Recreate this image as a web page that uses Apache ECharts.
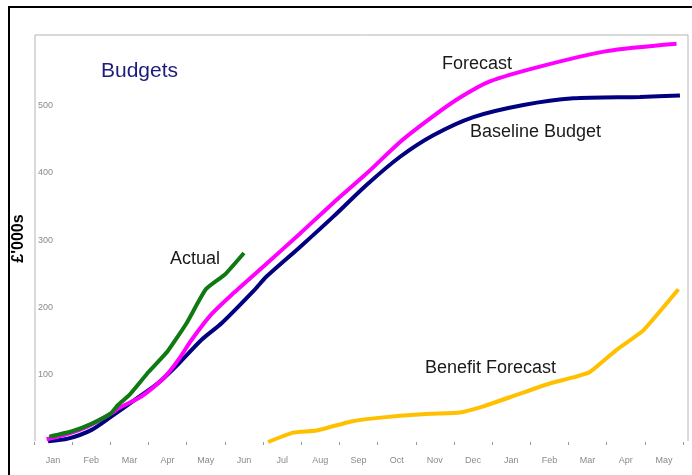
<!DOCTYPE html>
<html>
<head>
<meta charset="utf-8">
<script src="https://cdn.jsdelivr.net/npm/echarts@6/dist/echarts.min.js"></script>
<style>
  html, body { margin: 0; padding: 0; background: #fff; }
  #chart { width: 692px; height: 475px; }
</style>
</head>
<body>
<div id="chart"></div>
<script>
  // month labels along the bottom
  const months = ["Jan", "Feb", "Mar", "Apr", "May", "Jun", "Jul", "Aug", "Sep", "Oct", "Nov", "Dec",
    "Jan", "Feb", "Mar", "Apr", "May"];
  const yTicks = [100, 200, 300, 400, 500];

  // position along the time axis (in months from start of first Jan) and value (£'000s)
  const baselineT = [0.37, 0.89, 1.51, 2.03, 2.65, 3.26, 3.78, 4.39, 4.92, 5.79, 6.09, 6.97, 7.84, 8.71, 9.59, 10.46, 11.51, 12.82, 14.13, 15.87, 16.92];
  const baselineV = [1, 5, 18, 38, 63, 88, 116, 152, 177, 227, 246, 290, 335, 382, 424, 456, 483, 501, 511, 513, 515];

  const forecastT = [0.33, 0.89, 1.41, 2.04, 2.21, 2.82, 3.43, 3.78, 4.13, 4.65, 5.22, 6.09, 6.97, 7.83, 8.71, 9.59, 10.45, 11.16, 11.94, 13.25, 15.0, 16.83];
  const forecastV = [4, 12, 23, 43, 50, 68, 97, 122, 152, 190, 221, 265, 310, 355, 399, 446, 484, 512, 536, 558, 581, 592];

  const actualT = [0.4, 1.0, 1.5, 2.0, 2.2, 2.5, 3.0, 3.5, 4.0, 4.5, 5.0, 5.5];
  const actualV = [8, 16, 27, 42, 55, 70, 104, 135, 177, 227, 249, 281];

  const benefitT = [6.13, 6.79, 7.40, 8.28, 8.71, 9.59, 10.37, 11.16, 11.77, 12.64, 13.51, 14.13, 14.56, 15.26, 15.96, 16.88];
  const benefitV = [0, 14, 17, 30, 34, 39, 42, 44, 53, 70, 87, 96, 104, 137, 166, 227];

  function pairs(t, v) {
    return t.map((x, i) => [x, v[i]]);
  }

  const chart = echarts.init(document.getElementById("chart"));

  function label(text, x, y) {
    return {
      type: "text",
      style: {
        text: text,
        x: x,
        y: y,
        fill: "#1a1a1a",
        font: "18px 'Liberation Sans', Arial, sans-serif",
        textVerticalAlign: "middle",
      },
    };
  }

  function line(name, t, v, color, smooth) {
    return {
      name: name,
      type: "line",
      xAxisIndex: 1,
      data: pairs(t, v),
      smooth: smooth,
      showSymbol: false,
      lineStyle: { color: color, width: 4 },
    };
  }

  const option = {
    backgroundColor: "#fff",
    animation: false,
    grid: { left: 34, right: 9, top: 35, bottom: 33, containLabel: false, outerBoundsMode: "none" },
    xAxis: [
      {
        type: "category",
        data: months,
        boundaryGap: true,
        axisLine: { show: false },
        axisTick: { show: true, length: 3, lineStyle: { color: "#999" } },
        axisLabel: { color: "#8a8a8a", fontSize: 9, margin: 14, fontFamily: "Liberation Sans" },
        splitLine: { show: false },
      },
      {
        type: "value",
        min: 0,
        max: 17,
        show: false,
      },
    ],
    yAxis: {
      type: "value",
      min: 0,
      max: 605,
      interval: 100,
      name: "£'000s",
      nameLocation: "middle",
      nameRotate: 90,
      nameGap: 5,
      nameTextStyle: { color: "#000", fontSize: 16, fontWeight: "bold", fontFamily: "Liberation Sans" },
      axisLine: { show: false },
      axisTick: { show: false },
      splitLine: { show: false },
      axisLabel: {
        inside: true,
        margin: 4,
        color: "#8a8a8a",
        fontSize: 9,
        fontFamily: "Liberation Sans",
        formatter: (v) => (yTicks.indexOf(v) >= 0 ? String(v) : ""),
      },
    },
    series: [
      line("Baseline Budget", baselineT, baselineV, "#000080", 0.25),
      line("Forecast", forecastT, forecastV, "#ff00ff", 0.25),
      line("Actual", actualT, actualV, "#0f7a12", 0.15),
      line("Benefit Forecast", benefitT, benefitV, "#ffc000", 0.15),
    ],
    graphic: [
      // plot frame (no bottom edge)
      {
        type: "polyline",
        shape: { points: [[35, 441], [35, 35], [688, 35], [688, 441]] },
        style: { stroke: "#b4b4b4", lineWidth: 1, fill: null },
        z: -1,
      },
      // outer black border
      {
        type: "polyline",
        shape: { points: [[9, 475], [9, 7], [692, 7]] },
        style: { stroke: "#000", lineWidth: 2, fill: null },
      },
      {
        type: "text",
        style: {
          text: "Budgets",
          x: 101,
          y: 71,
          fill: "#1c1c7c",
          font: "21px 'Liberation Sans', Arial, sans-serif",
          textVerticalAlign: "middle",
        },
      },
      label("Actual", 170, 259),
      label("Forecast", 442, 64),
      label("Baseline Budget", 470, 132),
      label("Benefit Forecast", 425, 368),
    ],
  };

  chart.setOption(option);
</script>
</body>
</html>
